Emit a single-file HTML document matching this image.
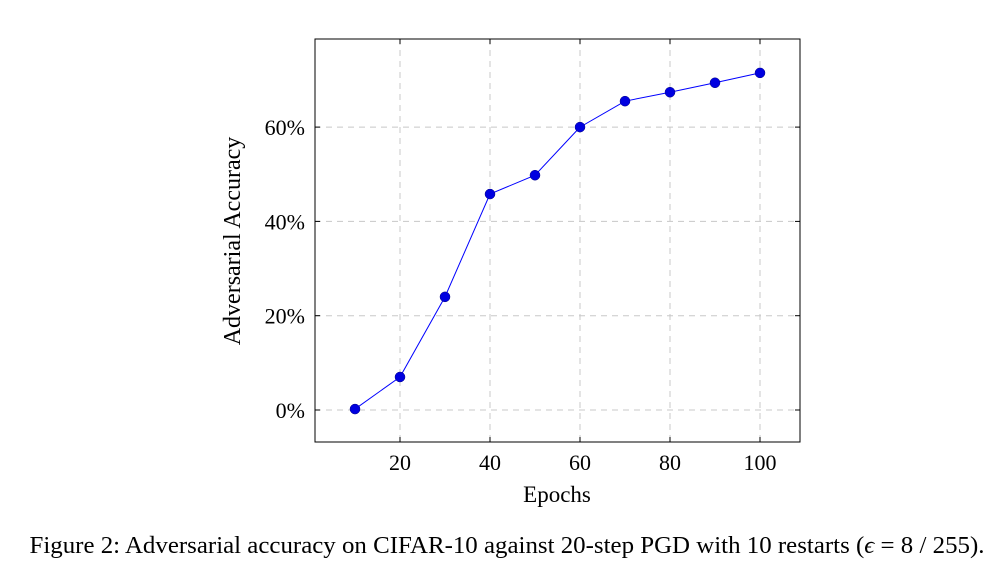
<!DOCTYPE html>
<html><head><meta charset="utf-8"><style>
body{margin:0;background:#fff;width:1005px;height:582px;overflow:hidden;font-family:"Liberation Serif",serif;}
svg text{font-family:"Liberation Serif",serif;}
</style></head><body>
<svg width="1005" height="582">
<g id="grid"></g>
<rect x="315" y="39" width="485" height="403" fill="none" stroke="#000" stroke-width="1"/>
<g id="ticks"></g>
<g id="series"></g>
<text x="557" y="502" font-size="23" text-anchor="middle">Epochs</text>
<text transform="translate(240,241) rotate(-90)" font-size="24" text-anchor="middle">Adversarial Accuracy</text>
<text x="507" y="553" font-size="24.5" text-anchor="middle" textLength="955" lengthAdjust="spacingAndGlyphs">Figure 2: Adversarial accuracy on CIFAR-10 against 20-step PGD with 10 restarts (<tspan font-style="italic">ϵ</tspan> = 8 / 255).</text>
</svg>
<script>
const epochs=[10,20,30,40,50,60,70,80,90,100];
const accuracy=[0.2,7.0,24.0,45.8,49.8,60.0,65.5,67.4,69.4,71.5];
const xTicks=[20,40,60,80,100];
const yTicks=[0,20,40,60];
const yTickLabels=["0%","20%","40%","60%"];
const NS="http://www.w3.org/2000/svg";
function X(v){return 400+(v-20)*4.5;}
function Y(v){return 410-v*4.715;}
function mk(t,a,p){const e=document.createElementNS(NS,t);for(const k in a)e.setAttribute(k,a[k]);p.appendChild(e);return e;}
const g=document.getElementById('grid'),tk=document.getElementById('ticks'),s=document.getElementById('series');
xTicks.forEach(v=>{
 const l=mk('line',{x1:X(v),x2:X(v),y1:39,y2:442,stroke:'#c8c8c8','stroke-dasharray':'6,5'},g);
 
 
 mk('line',{x1:X(v),x2:X(v),y1:442,y2:437,stroke:'#000'},tk);
 mk('line',{x1:X(v),x2:X(v),y1:39,y2:44,stroke:'#000'},tk);
 const t=mk('text',{x:X(v),y:470,'font-size':22,'text-anchor':'middle'},tk);t.textContent=v;
 
 
});
yTicks.forEach((v,i)=>{
 const l=mk('line',{x1:315,x2:800,y1:Y(v),y2:Y(v),stroke:'#c8c8c8','stroke-dasharray':'6,5'},g);
 
 
 mk('line',{x1:315,x2:320,y1:Y(v),y2:Y(v),stroke:'#000'},tk);
 mk('line',{x1:795,x2:800,y1:Y(v),y2:Y(v),stroke:'#000'},tk);
 const t=mk('text',{x:305,y:Y(v)+8,'font-size':22,'text-anchor':'end'},tk);t.textContent=yTickLabels[i];
 
 
});
const pl=mk('polyline',{points:epochs.map((e,i)=>X(e)+','+Y(accuracy[i])).join(' '),fill:'none',stroke:'#0000ff','stroke-width':1},s);


epochs.forEach((e,i)=>{
 const c=mk('circle',{cx:X(e),cy:Y(accuracy[i]),r:5,fill:'#0000e0',stroke:'#000080','stroke-width':0.5},s);
 
 
});
</script>
</body></html>
